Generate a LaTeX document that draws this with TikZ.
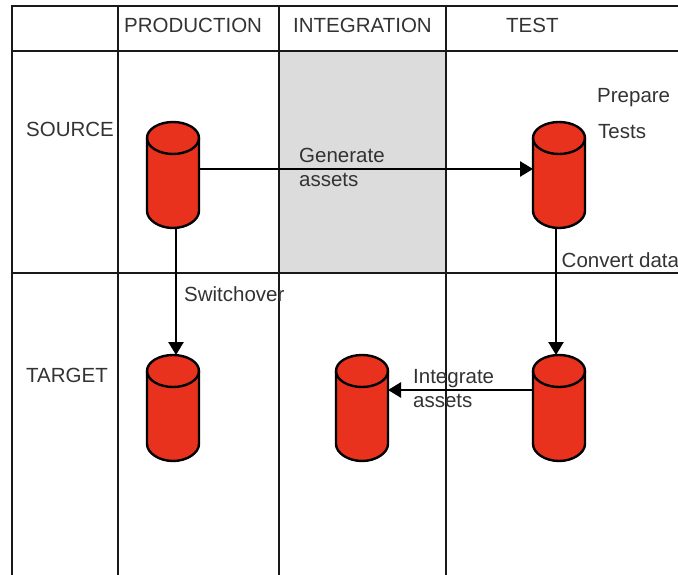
\documentclass[tikz,border=0pt]{standalone}
\usepackage{fontspec}
\setmainfont{Liberation Sans}
\usetikzlibrary{arrows.meta}
\definecolor{cylred}{HTML}{E8321E}
\definecolor{cellgray}{HTML}{DCDCDC}
\definecolor{labelgray}{HTML}{333333}
\tikzset{
  gridline/.style={line width=2.2pt,black!90},
  label/.style={anchor=base west,inner sep=0pt,text=labelgray,font=\fontsize{20.5}{24}\selectfont},
  store/.style={shape=rectangle,minimum width=52pt,minimum height=106pt,inner sep=0pt,outer sep=0pt},
  storeline/.style={draw=black,line width=2.4pt,line join=round},
  flow/.style={line width=2.6pt,black,-{Triangle[length=13pt,width=15pt]}}
}
\newcommand{\storenode}[3]{%
  \node[store] (#1) at (#2,#3) {};
  \begin{scope}[shift={(#1.center)}]
    \path[storeline,fill=cylred] (-26,-37) .. controls (-26,-46) and (-14,-53) .. (0,-53)
      .. controls (14,-53) and (26,-46) .. (26,-37) -- (26,36)
      .. controls (26,45) and (14,53) .. (0,53)
      .. controls (-14,53) and (-26,45) .. (-26,36) -- cycle;
    \path[storeline] (-26,-37) .. controls (-26,-28) and (-14,-21) .. (0,-21)
      .. controls (14,-21) and (26,-28) .. (26,-37);
  \end{scope}}
\begin{document}
\begin{tikzpicture}[x=1pt,y=-1pt]
\useasboundingbox (0,0) rectangle (678,575);
\fill[cellgray] (279,51) rectangle (446,273);
\draw[gridline] (678,6) -- (12,6) -- (12,575);
\draw[gridline] (12,51) -- (678,51);
\draw[gridline] (12,273) -- (678,273);
\draw[gridline] (118,6) -- (118,575);
\draw[gridline] (279,6) -- (279,575);
\draw[gridline] (446,6) -- (446,575);
\storenode{ps}{173}{175}
\storenode{ts}{559}{175}
\storenode{pt}{173}{408}
\storenode{it}{362}{408}
\storenode{tt}{559}{408}
\draw[flow] ([yshift=6pt]ps.center -| ps.east) -- ([yshift=6pt]ts.center -| ts.west);
\draw[flow] ([xshift=3pt]ps.south) -- ([xshift=3pt]pt.north);
\draw[flow] ([xshift=-3pt]ts.south) -- ([xshift=-3pt]tt.north);
\draw[flow] ([yshift=18pt]tt.center -| tt.west) -- ([yshift=18pt]it.center -| it.east);
\node[label] (h1) at (124,33) {PRODUCTION};
\node[label] (h2) at (293,33) {INTEGRATION};
\node[label] (h3) at (506,33) {TEST};
\node[label] (r1) at (26,137) {SOURCE};
\node[label] (r2) at (26,382) {TARGET};
\node[label] (l1) at (299,163) {Generate};
\node[label] (l2) at (299,187) {assets};
\node[label] (l3) at (597,103) {Prepare};
\node[label] (l4) at (598,139) {Tests};
\node[label] (l5) at (561.5,267) {Convert data};
\node[label] (l6) at (184,301) {Switchover};
\node[label] (l7) at (413,383) {Integrate};
\node[label] (l8) at (413,407) {assets};
\end{tikzpicture}
\end{document}
